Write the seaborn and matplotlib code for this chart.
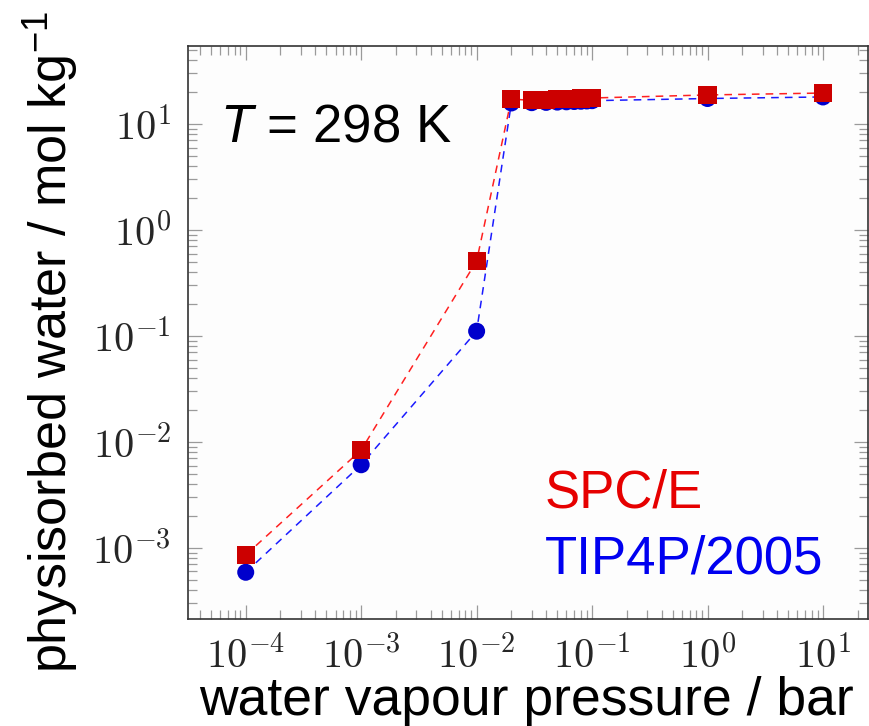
import numpy as np
import pandas as pd
import matplotlib
matplotlib.use("Agg")
import matplotlib.pyplot as plt
import matplotlib.ticker as mticker
import seaborn as sns

# ---- data ----
pressure = [1e-4, 1e-3, 1e-2, 2e-2, 3e-2, 4e-2, 5e-2, 6e-2, 7e-2, 8e-2, 9e-2, 1e-1, 1.0, 10.0]
spce = [8.6e-4, 8.4e-3, 0.51, 17.2, 16.7, 16.9, 17.1, 17.2, 17.3, 17.4, 17.5, 17.6, 18.8, 19.6]
tip4p = [5.9e-4, 6.1e-3, 0.111, 15.8, 15.9, 16.0, 16.1, 16.2, 16.3, 16.4, 16.5, 16.6, 17.4, 18.0]
series_names = ["SPC/E", "TIP4P/2005"]
xticks = [1e-4, 1e-3, 1e-2, 1e-1, 1e0, 1e1]
xtick_labels = [r"$10^{-4}$", r"$10^{-3}$", r"$10^{-2}$", r"$10^{-1}$", r"$10^{0}$", r"$10^{1}$"]
yticks = [1e-3, 1e-2, 1e-1, 1e0, 1e1]
ytick_labels = [r"$10^{-3}$", r"$10^{-2}$", r"$10^{-1}$", r"$10^{0}$", r"$10^{1}$"]

sns.set_theme(style="ticks")
plt.rcParams["font.family"] = ["Liberation Sans", "DejaVu Sans"]
plt.rcParams["mathtext.fontset"] = "cm"
plt.rcParams["mathtext.rm"] = "Liberation Sans"
plt.rcParams["mathtext.it"] = "Liberation Sans:italic"
plt.rcParams["mathtext.bf"] = "Liberation Sans:bold"

df_spce = pd.DataFrame({"p": pressure, "n": spce})
df_tip = pd.DataFrame({"p": pressure, "n": tip4p})

W, H = 869, 726
fig = plt.figure(figsize=(W / 100, H / 100), dpi=100)
L, R, T, B = 188, 868, 46, 619
ax = fig.add_axes([L / W, 1 - B / H, (R - L) / W, (B - T) / H])

# blue series first (drawn underneath)
sns.lineplot(data=df_tip, x="p", y="n", ax=ax, color="#1a1aff", linestyle=(0, (5, 4)),
             linewidth=1.1, zorder=2)
sns.scatterplot(data=df_tip, x="p", y="n", ax=ax, color="#0000cc", marker="o",
                s=150, edgecolor="none", zorder=3)
sns.lineplot(data=df_spce, x="p", y="n", ax=ax, color="#ff2020", linestyle=(0, (5, 4)),
             linewidth=1.1, zorder=4)
sns.scatterplot(data=df_spce, x="p", y="n", ax=ax, color="#cc0000", marker="s",
                s=170, edgecolor="none", zorder=5)

ax.set_xscale("log")
ax.set_yscale("log")
ax.set_xlim(10 ** -4.5, 10 ** 1.39)
ax.set_ylim(10 ** -3.67, 10 ** 1.736)

ax.xaxis.set_major_locator(mticker.FixedLocator(xticks))
ax.yaxis.set_major_locator(mticker.FixedLocator(yticks))
ax.xaxis.set_minor_locator(mticker.LogLocator(base=10, subs=np.arange(2, 10), numticks=50))
ax.yaxis.set_minor_locator(mticker.LogLocator(base=10, subs=np.arange(2, 10), numticks=50))
ax.set_xticklabels(xtick_labels)
ax.set_yticklabels(ytick_labels)
ax.xaxis.set_minor_formatter(mticker.NullFormatter())
ax.yaxis.set_minor_formatter(mticker.NullFormatter())

ax.tick_params(which="both", direction="in", top=True, right=True, color="#9a9a9a",
               width=0.9)
ax.tick_params(which="major", length=10, labelsize=29)
ax.tick_params(which="minor", length=6.5)
ax.tick_params(axis="x", which="major", pad=12)
ax.tick_params(axis="y", which="major", pad=12)
for s in ax.spines.values():
    s.set_color("#333333")
    s.set_linewidth(1.2)
    s.set_visible(True)

ax.set_xlabel("water vapour pressure / bar", fontsize=38.5, color="black")
ax.xaxis.label.set_va("top")
ax.xaxis.set_label_coords(0.497, -0.100)
ylab = ax.set_ylabel(r"physisorbed water / mol kg$^{-1}$", fontsize=37.5, color="black")
ylab.set_math_fontfamily("custom")
ax.yaxis.set_label_coords(-0.158, 0.483)

t = ax.text((220 - L) / (R - L), (B - 141) / (B - T), r"$T$ = 298 K", transform=ax.transAxes,
            fontsize=38, ha="left", va="baseline", color="black")
t.set_math_fontfamily("custom")
ax.text((545 - L) / (R - L), (B - 508) / (B - T), series_names[0], transform=ax.transAxes,
        fontsize=38, ha="left", va="baseline", color="#e60000")
ax.text((545 - L) / (R - L), (B - 574) / (B - T), series_names[1], transform=ax.transAxes,
        fontsize=38, ha="left", va="baseline", color="#0000f0")

ax.set_facecolor("#fdfdfd")
fig.savefig("out.png", dpi=100)
